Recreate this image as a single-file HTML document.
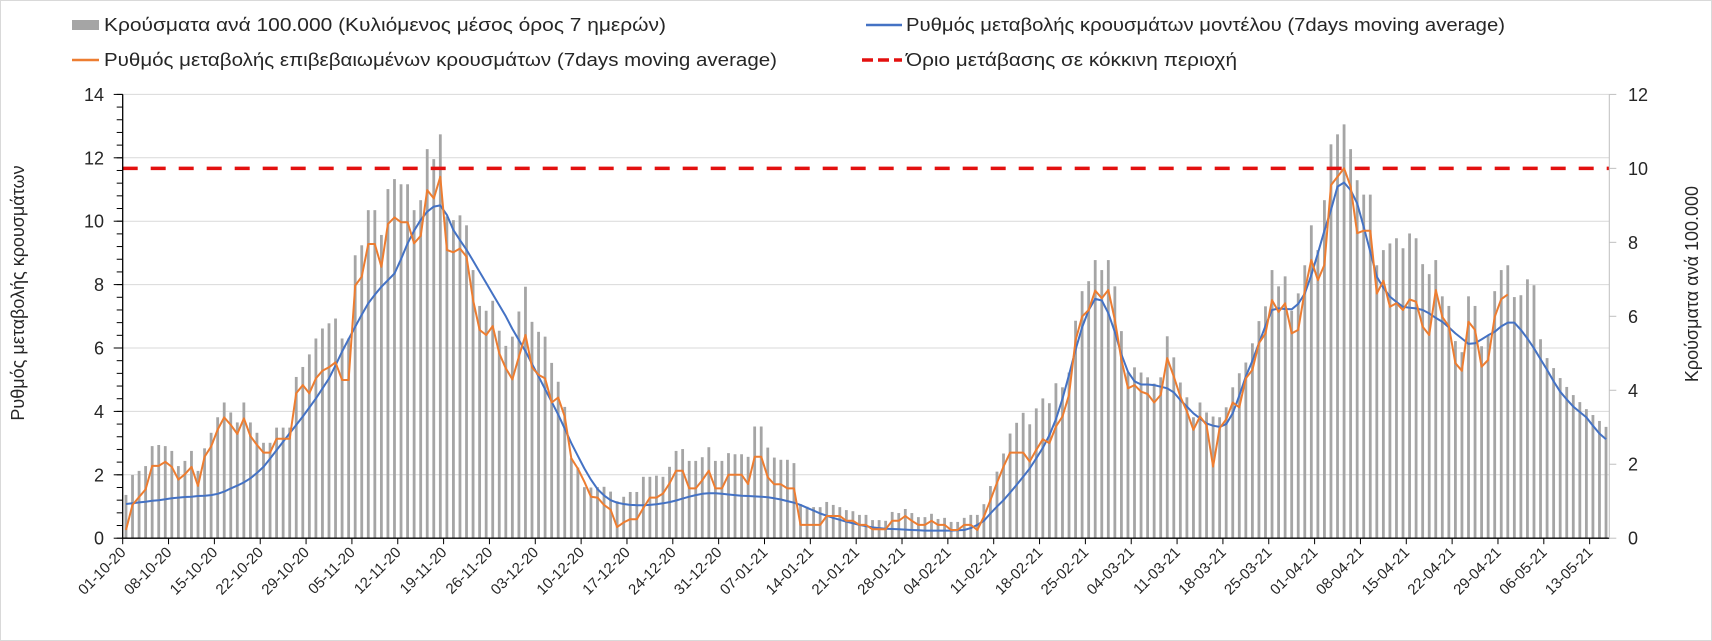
<!DOCTYPE html>
<html><head><meta charset="utf-8"><style>
html,body{margin:0;padding:0;background:#fff}
svg{display:block;font-family:"Liberation Sans",sans-serif}
</style></head><body>
<svg id="chart" width="1712" height="641" viewBox="0 0 1712 641" xmlns="http://www.w3.org/2000/svg"></svg>
<script>
const startDate = [2020, 9, 1];
const barValues = [1.17,1.71,1.82,1.95,2.49,2.52,2.49,2.36,1.95,2.09,2.36,1.82,2.43,2.85,3.27,3.67,3.40,3.13,3.67,3.13,2.85,2.58,2.58,2.99,2.99,2.99,4.36,4.63,4.97,5.40,5.67,5.81,5.94,5.40,5.40,7.65,7.92,8.87,8.87,8.20,9.44,9.71,9.57,9.57,8.87,9.14,10.52,10.25,10.92,
8.7,8.6,8.73,8.46,7.25,6.28,6.15,6.42,5.61,5.20,5.45,6.13,6.80,5.85,5.58,5.45,4.74,4.23,3.55,2.16,1.91,1.38,1.37,1.38,1.39,
1.26,1.0,1.12,1.25,1.25,1.66,1.66,1.69,1.66,1.93,2.36,2.41,2.09,2.09,2.19,2.46,2.09,2.09,2.30,2.27,2.27,2.20,3.02,3.02,2.45,2.18,2.12,2.12,2.03,
0.92,0.85,0.84,0.84,0.98,0.90,0.84,0.76,0.73,0.63,0.63,0.49,0.49,0.47,0.71,0.68,0.79,0.68,0.57,0.57,0.66,0.52,0.55,0.44,0.44,0.55,0.63,0.63,0.92,
1.41,1.80,2.29,2.83,3.12,3.39,3.08,3.51,3.78,3.65,4.19,4.08,4.48,5.88,6.68,6.95,7.52,7.25,7.52,6.81,5.60,4.48,4.62,4.48,
4.35,4.18,4.35,5.46,4.89,4.21,3.81,3.27,3.67,3.40,3.29,3.27,3.54,4.08,4.46,4.75,5.27,5.87,6.27,7.25,6.81,7.08,6.15,6.62,7.38,8.46,7.79,9.14,10.65,10.92,11.19,10.52,9.68,9.29,9.29,7.38,7.79,7.97,8.11,7.84,8.24,8.11,7.41,7.14,7.52,
6.54,6.28,5.33,5.03,6.54,6.28,5.19,5.49,6.68,7.25,7.38,6.52,6.57,7.00,6.84,5.38,4.87,4.60,4.33,4.09,3.87,3.68,3.49,3.33,3.17,3.01];
const orangeValues = [0.26,1.05,1.3,1.54,2.28,2.28,2.41,2.25,1.85,2.02,2.25,1.65,2.57,2.89,
3.43,3.81,3.57,3.29,3.78,3.22,2.94,2.70,2.70,3.14,3.14,3.14,4.57,4.83,4.57,5.04,5.28,5.39,5.55,4.99,4.99,7.97,8.25,9.28,9.28,8.56,9.91,10.12,9.97,9.97,9.30,9.54,10.98,10.72,11.40,9.09,9.02,
9.14,8.88,7.51,6.57,6.41,6.69,5.83,5.36,5.01,5.73,6.41,5.39,5.15,5.04,4.28,4.44,3.83,2.52,2.20,1.78,1.31,1.28,
1.05,0.9,0.35,0.5,0.6,0.6,0.95,
1.28,1.28,1.41,1.73,2.13,2.13,1.57,1.57,1.83,2.13,1.57,1.57,2.0,2.0,2.0,1.71,2.57,2.57,1.92,1.70,1.70,1.57,1.57,
0.42,0.42,0.42,0.42,0.70,0.70,0.70,0.55,0.55,0.42,0.42,0.28,0.28,0.28,0.55,0.55,0.70,0.55,0.42,0.42,0.55,0.42,0.42,0.26,0.26,0.42,0.42,0.26,0.68,1.20,
1.75,2.26,2.70,2.70,2.70,2.42,2.79,3.12,3.00,3.52,3.84,4.52,6.25,6.99,7.20,7.81,7.57,7.83,6.88,5.63,4.73,4.83,4.62,
4.55,4.28,4.52,5.68,5.10,4.47,4.00,3.42,3.84,3.57,2.26,3.47,3.75,4.28,4.13,5.04,5.31,6.15,6.46,7.51,7.14,7.41,6.46,6.57,7.81,8.78,8.14,8.62,11.14,11.40,11.67,11.09,9.62,9.70,9.70,7.72,8.12,7.30,7.41,7.20,7.53,7.46,6.67,6.41,7.83,
6.98,6.68,5.52,5.28,6.83,6.57,5.41,5.62,6.98,7.54,7.69];
const blueValues = [1.08,1.1,1.13,1.15,1.18,1.2,1.23,1.26,1.28,1.3,1.31,1.33,1.34,1.36,
1.40,1.47,1.57,1.66,1.76,1.89,2.06,2.25,2.51,2.78,3.04,3.31,3.57,3.84,4.12,4.41,4.72,5.04,5.45,5.89,6.28,6.67,7.05,7.41,7.68,7.93,8.14,8.35,8.8,9.30,9.7,10.04,10.3,10.46,10.5,10.2,9.72,
9.4,9.1,8.75,8.4,8.05,7.7,7.35,7.0,6.6,6.25,5.9,5.5,5.1,4.7,4.3,3.9,3.45,3.0,2.6,2.2,1.85,1.55,1.35,1.2,1.12,
1.08,1.05,1.04,1.04,1.05,1.07,1.1,1.14,1.19,1.25,1.31,1.36,1.4,1.42,1.42,1.4,1.38,1.36,1.34,1.33,1.32,1.31,1.29,1.26,1.22,1.17,1.12,
1.05,0.96,0.87,0.78,0.71,0.64,0.58,0.52,0.47,0.42,0.38,0.34,0.32,0.30,0.29,0.28,0.27,0.26,0.25,0.24,0.24,0.24,0.24,0.24,0.25,0.26,0.32,0.42,0.55,0.78,1.0,1.2,1.44,1.68,1.94,2.2,2.52,
2.85,3.25,3.75,4.4,5.15,5.95,6.65,7.2,7.55,7.5,7.1,6.5,5.8,5.25,4.95,4.85,
4.85,4.83,4.78,4.73,4.6,4.36,4.15,3.94,3.78,3.62,3.55,3.51,3.6,3.94,4.5,5.1,5.6,6.15,6.7,7.2,7.25,7.23,7.22,7.39,7.72,8.3,8.99,9.7,10.36,11.09,11.22,10.98,10.56,9.82,9.03,8.25,7.9,7.62,7.45,7.3,7.27,7.25,7.2,7.09,6.95,
6.83,6.65,6.46,6.3,6.13,6.15,6.27,6.4,6.51,6.68,6.8,6.8,6.57,6.3,5.99,5.65,5.31,4.95,4.62,4.38,4.15,3.98,3.81,3.55,3.3,3.12];
const leftTicks = [0,2,4,6,8,10,12,14];
const rightTicks = [0,2,4,6,8,10,12];
const thresholdValue = [10];
const nDays = 227;

const NS = 'http://www.w3.org/2000/svg';
const svg = document.getElementById('chart');
const X0 = 122.7, X1 = 1609.3, YB = 538.2, YT = 94.4;
const cw = (X1 - X0) / nDays;
const xc = i => X0 + cw * (i + 0.5);
const yL = v => YB - (YB - YT) * v / 14;
const yR = v => YB - (YB - YT) * v / 12;
function el(tag, attrs, parent) {
  const e = document.createElementNS(NS, tag);
  for (const k in attrs) e.setAttribute(k, attrs[k]);
  (parent || svg).appendChild(e);
  return e;
}
let e;
e = el('rect', {x:0.5, y:0.5, width:1711, height:640, fill:'#fff', stroke:'#d9d9d9'});



// gridlines
leftTicks.forEach(v => {
  if (v === 0) return;
  const g = el('line', {x1:X0, x2:X1, y1:yL(v), y2:yL(v), stroke:'#d9d9d9', 'stroke-width':1});
  
  
});

// bars
barValues.forEach((v, i) => {
  const b = el('rect', {x:xc(i) - 1.4, y:yR(v), width:2.8, height:YB - yR(v), fill:'#a5a5a5'});
  
  
});

// threshold
thresholdValue.forEach(v => {
  const t = el('line', {x1:X0, x2:X1, y1:yR(v), y2:yR(v), stroke:'#e3100f', 'stroke-width':3.5, 'stroke-dasharray':'15 13'});
  
  
});

// lines
function poly(vals, color, name) {
  const p = el('polyline', {points: vals.map((v, i) => xc(i).toFixed(1) + ',' + yL(v).toFixed(1)).join(' '), fill:'none', stroke:color, 'stroke-width':2, 'stroke-linejoin':'round'});
  
  
}
poly(blueValues, '#4472c4', 'model-rate-line');
poly(orangeValues, '#ed7d31', 'confirmed-rate-line');

// axes
e = el('line', {x1:X0, x2:X0, y1:YT, y2:YB, stroke:'#000', 'stroke-width':1.3});


e = el('line', {x1:X0, x2:X1, y1:YB, y2:YB, stroke:'#000', 'stroke-width':1.3});


e = el('line', {x1:X1, x2:X1, y1:YT, y2:YB, stroke:'#bfbfbf', 'stroke-width':1});



for (let v = 0; v <= 14.001; v += 0.4) {
  const tk = el('line', {x1:X0 - 6, x2:X0, y1:yL(v), y2:yL(v), stroke:'#000', 'stroke-width':1});
  
  
}
leftTicks.forEach(v => {
  const tk = el('line', {x1:X0 - 9, x2:X0, y1:yL(v), y2:yL(v), stroke:'#000', 'stroke-width':1});
  
  
  const t = el('text', {x:104, y:yL(v) + 6.5, 'text-anchor':'end', 'font-size':18, fill:'#262626'});
  t.textContent = v;
  
  
});
rightTicks.forEach(v => {
  const tk = el('line', {x1:X1, x2:X1 + 7, y1:yR(v), y2:yR(v), stroke:'#bfbfbf', 'stroke-width':1});
  
  
  const t = el('text', {x:1628, y:yR(v) + 6.5, 'text-anchor':'start', 'font-size':18, fill:'#262626'});
  t.textContent = v;
  
  
});

// x ticks and labels
const pad = n => String(n).padStart(2, '0');
for (let d = 0; d < nDays; d += 7) {
  const x = X0 + cw * d;
  const tk = el('line', {x1:x, x2:x, y1:YB, y2:YB + 6, stroke:'#000', 'stroke-width':1});
  
  
  const dt = new Date(startDate[0], startDate[1], startDate[2] + d);
  const lbl = pad(dt.getDate()) + '-' + pad(dt.getMonth() + 1) + '-' + String(dt.getFullYear()).slice(2);
  const t = el('text', {x:x + 4, y:YB + 15, 'text-anchor':'end', 'font-size':15, fill:'#262626', transform:`rotate(-45 ${x + 4} ${YB + 15})`});
  t.textContent = lbl;
  
  
}

// axis titles
e = el('text', {x:24, y:293, 'text-anchor':'middle', 'font-size':18, fill:'#262626', transform:'rotate(-90 24 293)'});
e.textContent = 'Ρυθμός μεταβολής κρουσμάτων';


e = el('text', {x:1698, y:284, 'text-anchor':'middle', 'font-size':18, fill:'#262626', transform:'rotate(-90 1698 284)'});
e.textContent = 'Κρούσματα ανά 100.000';



// legend
function legendText(x, y, w, str, name) {
  const t = el('text', {x:x, y:y + 6, 'font-size':18, fill:'#262626', textLength:w, lengthAdjust:'spacingAndGlyphs'});
  t.textContent = str;
  
  
}
e = el('rect', {x:72, y:20, width:27, height:10, fill:'#a5a5a5'});


legendText(104, 25, 562, 'Κρούσματα ανά 100.000 (Κυλιόμενος μέσος όρος 7 ημερών)', 'legend-entry-cases');
e = el('line', {x1:72, x2:99, y1:60, y2:60, stroke:'#ed7d31', 'stroke-width':2.5});


legendText(104, 60, 673, 'Ρυθμός μεταβολής επιβεβαιωμένων κρουσμάτων (7days moving average)', 'legend-entry-confirmed');
e = el('line', {x1:866, x2:902, y1:25, y2:25, stroke:'#4472c4', 'stroke-width':2.5});


legendText(906, 25, 599, 'Ρυθμός μεταβολής κρουσμάτων μοντέλου (7days moving average)', 'legend-entry-model');
e = el('line', {x1:862, x2:902, y1:60, y2:60, stroke:'#e3100f', 'stroke-width':3.5, 'stroke-dasharray':'11 5'});


legendText(906, 60, 331, 'Όριο μετάβασης σε κόκκινη περιοχή', 'legend-entry-threshold');
</script>
</body></html>
